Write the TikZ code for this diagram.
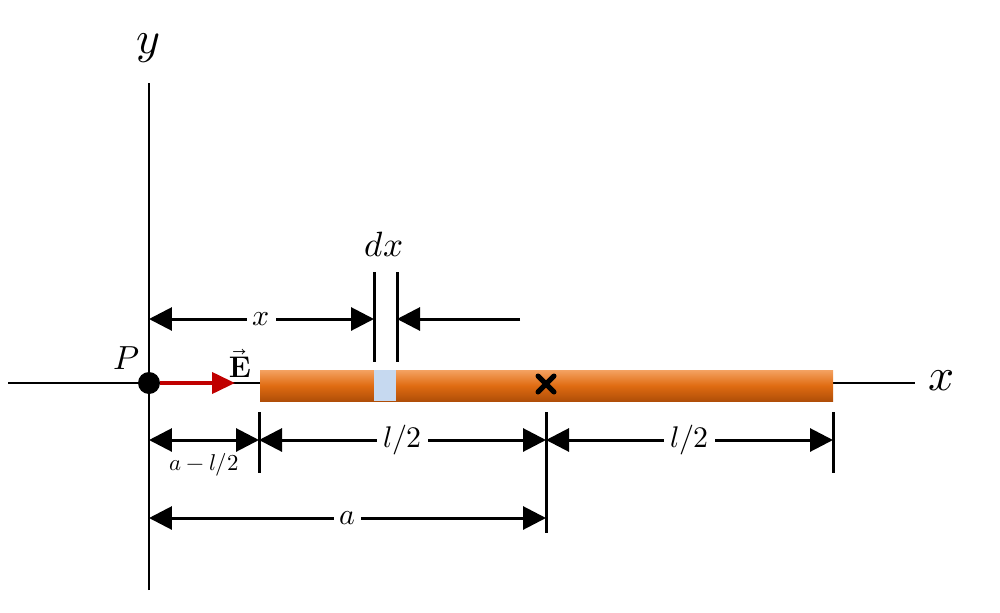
\documentclass[tikz,border=0pt]{standalone}
\usepackage{unicode-math}
\setmathfont{Latin Modern Math}
\usetikzlibrary{arrows.meta,shapes.misc}
\definecolor{rodlight}{HTML}{F4A262}
\definecolor{rodmid}{HTML}{E06C12}
\definecolor{roddark}{HTML}{B04E08}
\definecolor{slice}{HTML}{C6D9F0}
\definecolor{fieldred}{HTML}{C00000}
\tikzset{axis/.style={line width=0.05cm}}
\tikzset{tick/.style={line width=0.06cm}}
\tikzset{dim/.style={line width=0.06cm,
                     {Triangle[length=0.46cm,width=0.46cm]}-{Triangle[length=0.46cm,width=0.46cm]}}}
\tikzset{halfdim/.style={line width=0.06cm,-{Triangle[length=0.46cm,width=0.46cm]}}}
\tikzset{lbl/.style={fill=white,inner sep=0.12cm,font=\fontsize{17}{20}\selectfont}}
\tikzset{axislabel/.style={font=\fontsize{26}{30}\selectfont}}
\begin{document}
\begin{tikzpicture}[x=0.02cm,y=-0.02cm]
    \useasboundingbox (0,0) rectangle (1000,612);

    % axes
    \coordinate (xl) at (8,383);
    \coordinate (xr) at (915,383);
    \coordinate (yt) at (149,83);
    \coordinate (yb) at (149,590);
    \draw[axis] (xl) -- (xr);
    \draw[axis] (yb) -- (yt);
    \node[axislabel] (xlab) at (942,381) {$x$};
    \node[axislabel] (ylab) at (148,48) {$y$};

    % rod
    \shade[top color=rodlight,bottom color=roddark,middle color=rodmid]
        (260,370) rectangle (833,401);
    \fill[slice] (374,370) rectangle (396,401);
    \node[cross out,draw,line width=0.1cm,line cap=round,minimum size=0.22cm,inner sep=0pt] (cm) at (546,384) {};

    % point P and field
    \node[circle,fill,minimum size=0.44cm,inner sep=0pt] (P) at (149,383) {};
    \node[font=\fontsize{19}{22}\selectfont] (Plab) at (127,358) {$P$};
    \coordinate (Etip) at (235,383);
    \draw[fieldred,line width=0.08cm,-{Triangle[length=0.46cm,width=0.42cm]}] (P) -- (Etip);
    \node[font=\fontsize{17}{20}\selectfont] (Elab) at (240,363) {$\vec{\mathbf{E}}$};

    % element dx
    \draw[tick] (374,272) coordinate (dxl) -- (374,362);
    \draw[tick] (397,272) coordinate (dxr) -- (397,362);
    \node[font=\fontsize{20}{24}\selectfont] (dxlab) at (384,244) {$dx$};
    \coordinate (xa) at (149,319);
    \coordinate (xb) at (374,319);
    \coordinate (xc) at (397,319);
    \coordinate (xd) at (520,319);
    \draw[dim] (xa) -- node[lbl] {$x$} (xb);
    \draw[halfdim] (xd) -- (xc);

    % ticks below rod
    \draw[tick] (259,412) -- (259,473);
    \draw[tick] (546,412) -- (546,533);
    \draw[tick] (833,412) -- (833,473);

    % dimensions
    \coordinate (d1a) at (149,440);
    \coordinate (d1b) at (259,440);
    \coordinate (d1c) at (546,440);
    \coordinate (d1d) at (833,440);
    \coordinate (d2a) at (149,518);
    \coordinate (d2b) at (546,518);
    \draw[dim] (d1a) -- node[below=0.12cm,font=\fontsize{13}{16}\selectfont] {$a-l/2$} (d1b);
    \draw[dim] (d1b) -- node[lbl] {$l/2$} (d1c);
    \draw[dim] (d1c) -- node[lbl] {$l/2$} (d1d);
    \draw[dim] (d2a) -- node[lbl] {$a$} (d2b);
\end{tikzpicture}
\end{document}
